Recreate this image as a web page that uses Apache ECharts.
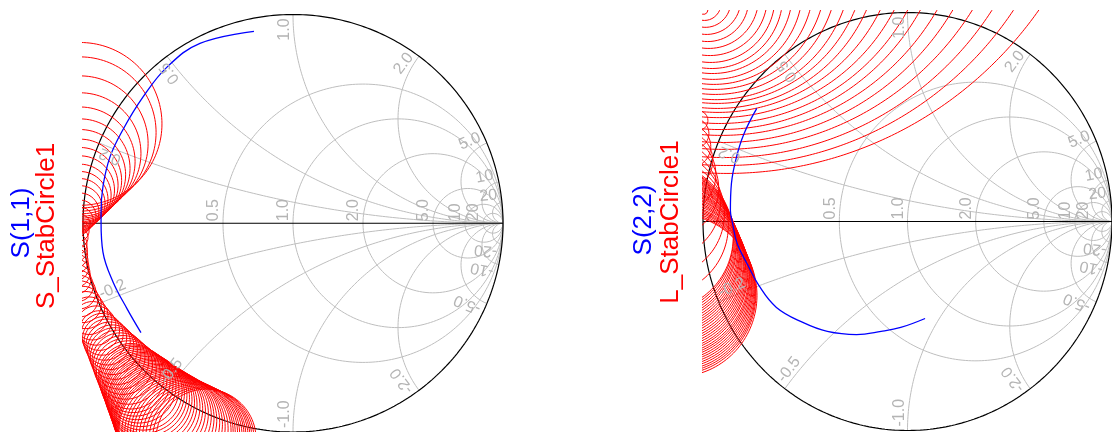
<!DOCTYPE html>
<html><head><meta charset="utf-8">
<script src="https://cdn.jsdelivr.net/npm/echarts@6/dist/echarts.min.js"></script>
<style>html,body{margin:0;padding:0;background:#fff;}#c{width:1112px;height:432px;}</style>
</head><body><div id="c"></div>
<script>
// ---- Data (reflection-coefficient plane) ----
const S11 = [[-0.186,0.919],[-0.443,0.862],[-0.600,0.748],[-0.714,0.605],[-0.810,0.448],[-0.871,0.319],[-0.905,0.176],[-0.914,0.052],[-0.914,0.005],[-0.905,-0.138],[-0.857,-0.281],[-0.790,-0.410],[-0.724,-0.524]];
const S22 = [[-0.737,0.541],[-0.799,0.421],[-0.837,0.306],[-0.861,0.182],[-0.866,0.053],[-0.856,-0.005],[-0.833,-0.105],[-0.785,-0.201],[-0.727,-0.306],[-0.641,-0.411],[-0.512,-0.483],[-0.392,-0.526],[-0.249,-0.541],[-0.129,-0.526],[-0.033,-0.507],[0.086,-0.464]];

// source stability circles: centre (re, im) and radius
const S_STAB_CX = [-1.014,-1.014,-1.014,-1.014,-1.014,-1.014,-1.014,-1.014,-1.014,-1.014,-1.014,-1.014,-1.014,-1.014,-1.014,-1.014,-1.014,
 -1.014,-1.020,-1.027,-1.033,-1.035,-1.037,-1.038,-1.037,-1.035,-1.033,-1.027,-1.020,-1.014,-1.000,-0.986,-0.971,-0.955,-0.938,
 -0.921,-0.909,-0.897,-0.885,-0.872,-0.860,-0.848,-0.835,-0.822,-0.810,-0.797,-0.784,-0.771,-0.762,-0.752,-0.743,-0.733,-0.724,-0.714,-0.707,-0.699,-0.691,-0.682,-0.675,-0.667,-0.658,-0.649,-0.641,-0.632,-0.623,-0.614,-0.606,-0.597,-0.589,-0.580,-0.571,-0.562,-0.550,-0.538,-0.526,-0.514,-0.502,-0.490,-0.478,-0.465,-0.453,-0.440,-0.427,-0.414];
const S_STAB_CY = [0.476,0.435,0.382,0.335,0.295,0.262,0.232,0.205,0.182,0.159,0.135,0.115,0.095,0.075,0.055,0.035,0.015,
 -0.005,-0.037,-0.068,-0.100,-0.127,-0.154,-0.181,-0.210,-0.238,-0.267,-0.299,-0.330,-0.362,-0.389,-0.416,-0.443,-0.467,-0.490,
 -0.514,-0.532,-0.551,-0.569,-0.587,-0.606,-0.624,-0.642,-0.660,-0.679,-0.697,-0.715,-0.733,-0.745,-0.757,-0.769,-0.781,-0.793,-0.805,-0.815,-0.825,-0.836,-0.846,-0.857,-0.867,-0.878,-0.889,-0.900,-0.911,-0.922,-0.933,-0.943,-0.953,-0.964,-0.975,-0.985,-0.995,-0.999,-1.003,-1.007,-1.011,-1.015,-1.019,-1.022,-1.024,-1.027,-1.029,-1.031,-1.033];
const S_STAB_R = [0.390,0.362,0.324,0.290,0.262,0.238,0.217,0.198,0.181,0.164,0.148,0.133,0.119,0.105,0.090,0.076,0.062,
 0.048,0.049,0.051,0.052,0.056,0.059,0.062,0.065,0.068,0.071,0.076,0.081,0.086,0.087,0.089,0.090,0.092,0.094,
 0.095,0.100,0.105,0.110,0.114,0.119,0.124,0.130,0.135,0.141,0.146,0.152,0.157,0.162,0.167,0.172,0.176,0.181,0.186,0.190,0.194,0.198,0.201,0.206,0.210,0.215,0.219,0.224,0.229,0.234,0.238,0.243,0.248,0.253,0.257,0.262,0.267,0.265,0.263,0.262,0.260,0.259,0.257,0.254,0.251,0.248,0.244,0.241,0.238];

// load stability circles
const L_STAB_CX = [-0.997,-0.993,-0.988,-0.983,-0.977,-0.972,-0.967,-0.962,-0.958,-0.954,-0.950,-0.946,-0.943,-0.940,-0.936,-0.933,-0.930,-0.927,-0.923,-0.919,-0.915,-0.910,-0.905,-0.900,-0.894,-0.888,-0.883,
 -1.024,-1.043,-1.062,-1.091,-1.124,-1.153,-1.182,-1.196,-1.206,-1.206,
 -1.208,-1.206,-1.203,-1.201,-1.199,-1.196,-1.194,-1.191,-1.189,-1.187,-1.184,-1.182,-1.179,-1.177,-1.174,-1.172,-1.169,-1.167,-1.164,-1.160,-1.157,-1.154,-1.151,-1.147,-1.144,-1.141,-1.137,-1.134,-1.131,-1.128,-1.124];
const L_STAB_CY = [1.012,1.043,1.053,1.063,1.061,1.072,1.076,1.075,1.080,1.099,1.117,1.143,1.175,1.208,1.248,1.299,1.341,1.410,1.469,1.520,1.562,1.639,1.696,1.789,1.870,1.970,2.109,
 0.483,0.421,0.359,0.292,0.225,0.158,0.096,0.038,-0.019,-0.072,
 -0.081,-0.090,-0.100,-0.109,-0.118,-0.127,-0.136,-0.145,-0.154,-0.163,-0.172,-0.181,-0.190,-0.200,-0.209,-0.218,-0.227,-0.236,-0.245,-0.254,-0.263,-0.272,-0.281,-0.290,-0.300,-0.309,-0.318,-0.327,-0.336,-0.345,-0.354];
const L_STAB_R = [0.021,0.081,0.124,0.168,0.200,0.244,0.282,0.314,0.348,0.391,0.437,0.487,0.543,0.600,0.665,0.734,0.800,0.888,0.972,1.051,1.122,1.227,1.318,1.444,1.564,1.702,1.879,
 0.048,0.072,0.100,0.139,0.187,0.230,0.268,0.301,0.330,0.354,
 0.357,0.359,0.360,0.362,0.363,0.365,0.367,0.368,0.369,0.371,0.372,0.374,0.376,0.377,0.378,0.380,0.381,0.383,0.383,0.384,0.384,0.384,0.385,0.385,0.385,0.386,0.386,0.387,0.387,0.387,0.388];

// Smith chart grid
const R_CIRCLES = [0.5, 1, 2, 5, 10, 20];
const R_LABELS = ['0.5','1.0','2.0','5.0','10','20'];
const X_ARCS = [0.2, 0.5, 1, 2, 5, 10, 20];
const X_POS_LABELS = ['0.2','0.5','1.0','2.0','5.0','10','20'];
const X_NEG_LABELS = ['-0.2','-0.5','-1.0','-2.0','-5.0','-10','-20'];

// ---- Rendering ----
const GRID_COLOR = '#bebebe';
const LABEL_COLOR = '#b4b4b4';
const chart = echarts.init(document.getElementById('c'), null, {renderer:'canvas'});
const grids = [
  {left:83, top:14.5, width:420, height:420, ymax:1, R:210},
  {left:703, top:10.41, width:418, height:420.09, ymax:1.01, R:209}
];

function circ(cx, cy, r) {
  const n = Math.max(120, Math.ceil(r * 800));
  const pts = [];
  for (let i = 0; i <= n; i++) { const a = 2*Math.PI*i/n; pts.push([cx + r*Math.cos(a), cy + r*Math.sin(a)]); }
  return pts;
}
function arcPts(x) {
  const r = 1/x, cy = 1/x;
  const px = (x*x-1)/(x*x+1), py = 2*x/(x*x+1);
  const a0 = Math.atan2(py - cy, px - 1);
  const start = a0 < 0 ? a0 + 2*Math.PI : a0;
  const end = 1.5*Math.PI;
  const pts = [];
  const n = 240;
  for (let i = 0; i <= n; i++) { const a = start + (end-start)*i/n; pts.push([1 + r*Math.cos(a), cy + r*Math.sin(a)]); }
  return pts;
}
function line(g, data, color, width, z) {
  return {type:'line', xAxisIndex:g, yAxisIndex:g, data:data, symbol:'none', showSymbol:false,
    lineStyle:{color:color, width:width}, clip:true, silent:true, animation:false, z:z||2, smooth:false};
}

const series = [];
function addChart(g, cxs, cys, rs, trace) {
  R_CIRCLES.forEach(r => series.push(line(g, circ(r/(1+r), 0, 1/(1+r)), GRID_COLOR, 1, 1)));
  X_ARCS.forEach(x => {
    const p = arcPts(x);
    series.push(line(g, p, GRID_COLOR, 1, 1));
    series.push(line(g, p.map(q => [q[0], -q[1]]), GRID_COLOR, 1, 1));
  });
  series.push(line(g, circ(0,0,1), '#000', 1.2, 3));
  series.push(line(g, [[-1,0],[1,0]], '#000', 1, 3));
  const n = Math.min(cxs.length, cys.length, rs.length);
  for (let i = 0; i < n; i++) series.push(line(g, circ(cxs[i], cys[i], rs[i]), '#ff0000', 1, 4));
  const t = line(g, trace, '#0000ff', 1.3, 5); t.smooth = 0.4;
  series.push(t);
}
addChart(0, S_STAB_CX, S_STAB_CY, S_STAB_R, S11);
addChart(1, L_STAB_CX, L_STAB_CY, L_STAB_R, S22);

chart.setOption({
  animation:false,
  grid: grids.map(g => ({left:g.left, top:g.top, width:g.width, height:g.height, containLabel:false, show:false})),
  xAxis: grids.map((g,i) => ({type:'value', gridIndex:i, min:-1, max:1, show:false})),
  yAxis: grids.map((g,i) => ({type:'value', gridIndex:i, min:-1, max:g.ymax, show:false})),
  series: series
});

const FONT = '16px "Liberation Sans", Arial, sans-serif';
const graphics = [];
grids.forEach((gd, g) => {
  const px = p => chart.convertToPixel({gridIndex:g}, p);
  R_CIRCLES.forEach((r, i) => {
    const p = px([(r-1)/(r+1), 0]);
    graphics.push({type:'text', x:p[0]-1, y:p[1]-2, rotation:Math.PI/2, silent:true, z:10,
      style:{text:R_LABELS[i], fill:LABEL_COLOR, font:FONT, align:'left', verticalAlign:'bottom'}});
  });
  X_ARCS.forEach((x, i) => {
    const re = (x*x-1)/(x*x+1), im = 2*x/(x*x+1);
    const k = 1 - 4/gd.R;
    const th = Math.atan2(im, re);
    const pp = px([re*k, im*k]);
    graphics.push({type:'text', x:pp[0], y:pp[1], rotation:th, silent:true, z:10,
      style:{text:X_POS_LABELS[i], fill:LABEL_COLOR, font:FONT, align:'right', verticalAlign:'bottom'}});
    const pn = px([re*k, -im*k]);
    graphics.push({type:'text', x:pn[0], y:pn[1], rotation:-th + Math.PI, silent:true, z:10,
      style:{text:X_NEG_LABELS[i], fill:LABEL_COLOR, font:FONT, align:'left', verticalAlign:'bottom'}});
  });
});
const TFONT = '26px "Liberation Sans", Arial, sans-serif';
[[21.5,223,'S(1,1)','#0000ff'],[46.5,226,'S_StabCircle1','#ff0000'],[644,220,'S(2,2)','#0000ff'],[671,222,'L_StabCircle1','#ff0000']].forEach(t => {
  graphics.push({type:'text', x:t[0], y:t[1], rotation:Math.PI/2, silent:true, z:10,
    style:{text:t[2], fill:t[3], font:TFONT, align:'center', verticalAlign:'middle'}});
});
chart.setOption({graphic: graphics});
</script>
</body></html>
